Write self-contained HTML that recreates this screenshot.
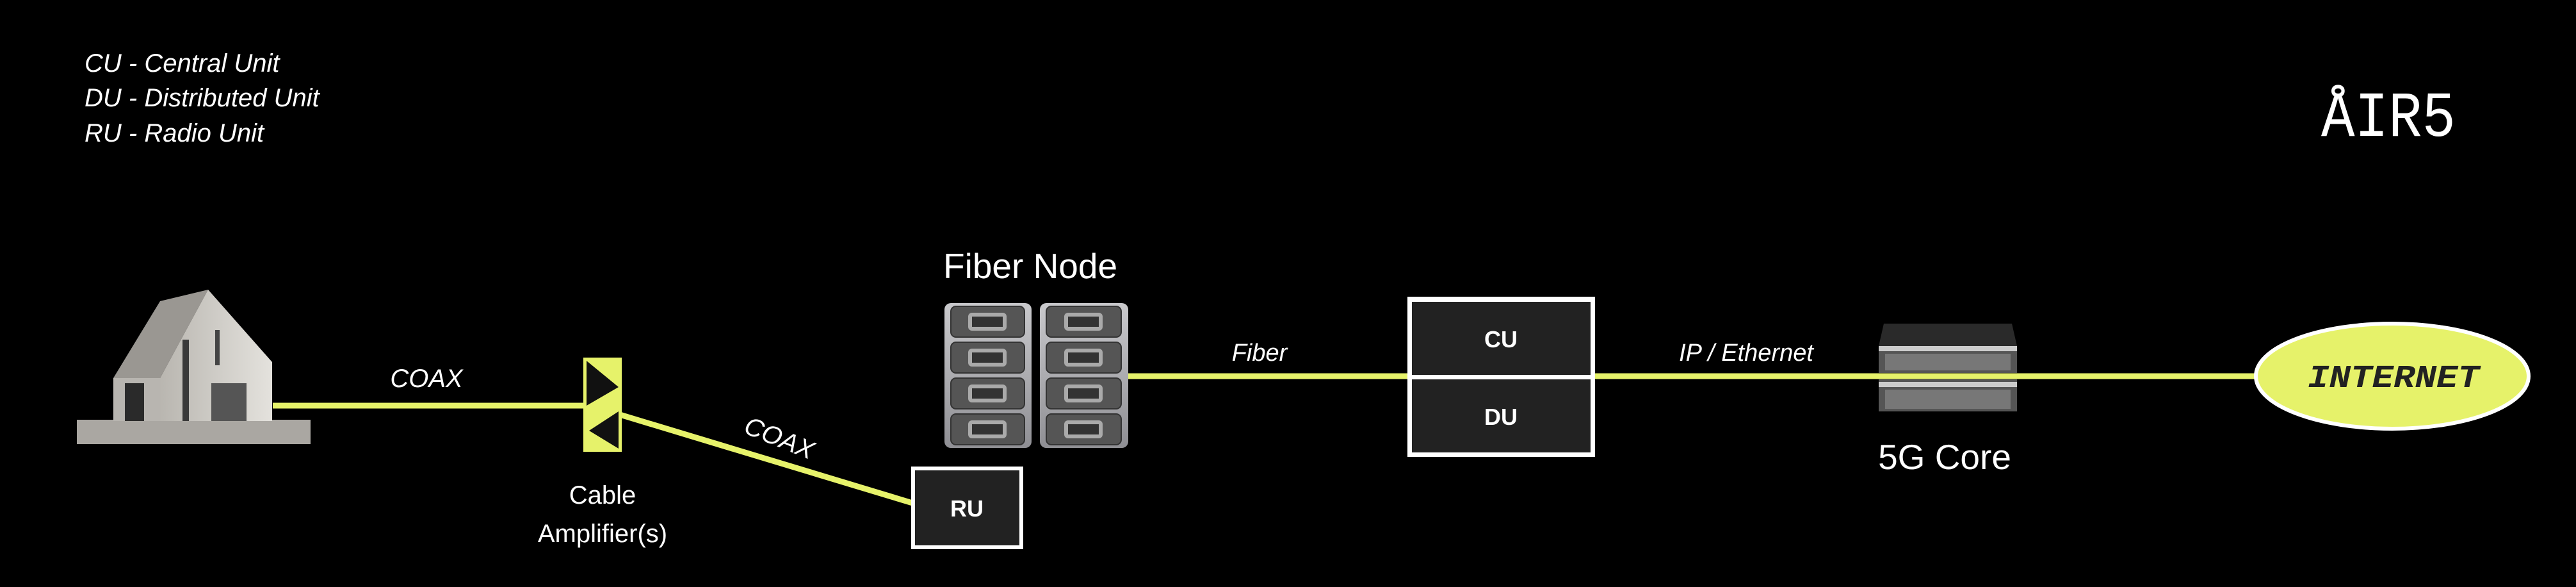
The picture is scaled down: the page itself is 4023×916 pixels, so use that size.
<!DOCTYPE html>
<html><head><meta charset="utf-8"><style>
html,body{margin:0;padding:0;background:#000;}
svg{display:block}
text{font-family:"Liberation Sans",sans-serif;fill:#fff}
text.mono{font-family:"Liberation Mono",monospace}
</style></head><body>
<svg width="4023" height="916" viewBox="0 0 4023 916" xmlns="http://www.w3.org/2000/svg">
<defs>
<linearGradient id="srv" x1="0" y1="0" x2="0" y2="1"><stop offset="0" stop-color="#c9c9cc"/><stop offset="1" stop-color="#8f8f94"/></linearGradient>
<linearGradient id="wall" x1="0" y1="0" x2="1" y2="0"><stop offset="0" stop-color="#b9b6b0"/><stop offset="1" stop-color="#e4e2dd"/></linearGradient>
</defs>
<rect width="4023" height="916" fill="#000"/>

<!-- legend -->
<text x="132" y="112" font-size="40" font-style="italic">CU - Central Unit</text>
<text x="132" y="166" font-size="40" font-style="italic">DU - Distributed Unit</text>
<text x="132" y="221" font-size="40" font-style="italic">RU - Radio Unit</text>

<!-- logo -->
<text class="mono" x="3730" y="212" font-size="100" text-anchor="middle" textLength="210" lengthAdjust="spacingAndGlyphs">ÅIR5</text>

<!-- connectors -->
<line x1="426" y1="633" x2="915" y2="633" stroke="#e6f26a" stroke-width="9"/>
<line x1="935" y1="637" x2="1425" y2="785" stroke="#e6f26a" stroke-width="9"/>
<line x1="1760" y1="587" x2="3525" y2="587" stroke="#e6f26a" stroke-width="9"/>

<!-- house -->
<polygon points="120,655 485,655 485,693 120,693" fill="#aaa7a2"/>
<polygon points="177,590 250,470 325,452 250,590" fill="#9a9792"/>
<polygon points="177,590 250,590 250,657 177,657" fill="#b8b5b0"/>
<polygon points="250,590 325,452 425,565 425,657 250,657" fill="url(#wall)"/>
<rect x="195" y="598" width="30" height="59" fill="#2a2a2a"/>
<rect x="285" y="530" width="10" height="127" fill="#3a3a3a"/>
<rect x="330" y="598" width="55" height="59" fill="#555"/>
<rect x="336" y="515" width="7" height="55" fill="#444"/>

<!-- amplifier -->
<rect x="911" y="558" width="60" height="147" fill="#e6f26a"/>
<polygon points="916,563 966,604 916,633" fill="#111"/>
<polygon points="966,642 920,672 966,700" fill="#111"/>
<text x="941" y="786" font-size="40" text-anchor="middle">Cable</text>
<text x="941" y="846" font-size="40" text-anchor="middle">Amplifier(s)</text>

<text x="666" y="604" font-size="40" font-style="italic" text-anchor="middle">COAX</text>
<text x="1212" y="696" font-size="40" font-style="italic" text-anchor="middle" transform="rotate(22 1212 696)">COAX</text>

<!-- RU -->
<rect x="1426" y="731" width="169" height="123" fill="#222" stroke="#fff" stroke-width="6"/>
<text x="1510" y="806" font-size="36" text-anchor="middle" font-weight="bold">RU</text>

<!-- fiber node -->
<text x="1473" y="434" font-size="55">Fiber Node</text>
<g>
<rect x="1475" y="473" width="136" height="226" rx="10" fill="url(#srv)"/>
<rect x="1624" y="473" width="138" height="226" rx="10" fill="url(#srv)"/>
<g fill="#555" stroke="#333" stroke-width="2">
<rect x="1485" y="478" width="115" height="48" rx="8"/><rect x="1485" y="534" width="115" height="48" rx="8"/><rect x="1485" y="590" width="115" height="48" rx="8"/><rect x="1485" y="646" width="115" height="48" rx="8"/>
<rect x="1634" y="478" width="117" height="48" rx="8"/><rect x="1634" y="534" width="117" height="48" rx="8"/><rect x="1634" y="590" width="117" height="48" rx="8"/><rect x="1634" y="646" width="117" height="48" rx="8"/>
</g>
<g fill="#aaa">
<rect x="1512" y="488" width="60" height="28" rx="6"/><rect x="1512" y="544" width="60" height="28" rx="6"/><rect x="1512" y="600" width="60" height="28" rx="6"/><rect x="1512" y="656" width="60" height="28" rx="6"/>
<rect x="1662" y="488" width="60" height="28" rx="6"/><rect x="1662" y="544" width="60" height="28" rx="6"/><rect x="1662" y="600" width="60" height="28" rx="6"/><rect x="1662" y="656" width="60" height="28" rx="6"/>
</g>
<g fill="#333">
<rect x="1518" y="494" width="48" height="16"/><rect x="1518" y="550" width="48" height="16"/><rect x="1518" y="606" width="48" height="16"/><rect x="1518" y="662" width="48" height="16"/>
<rect x="1668" y="494" width="48" height="16"/><rect x="1668" y="550" width="48" height="16"/><rect x="1668" y="606" width="48" height="16"/><rect x="1668" y="662" width="48" height="16"/>
</g>
</g>

<text x="1967" y="563" font-size="38" font-style="italic" text-anchor="middle">Fiber</text>

<!-- CU/DU -->
<rect x="2198" y="463" width="293" height="250" fill="#fff"/>
<rect x="2205" y="471" width="279" height="114" fill="#222"/>
<rect x="2205" y="592" width="279" height="114" fill="#222"/>
<text x="2344" y="542" font-size="36" text-anchor="middle" font-weight="bold">CU</text>
<text x="2344" y="663" font-size="36" text-anchor="middle" font-weight="bold">DU</text>

<text x="2727" y="563" font-size="38" font-style="italic" text-anchor="middle">IP / Ethernet</text>

<!-- 5G core -->
<polygon points="2942,505 3142,505 3150,540 2934,540" fill="#2a2a2a"/>
<rect x="2934" y="540" width="216" height="42" fill="#555"/>
<rect x="2934" y="540" width="216" height="8" fill="#ccc"/>
<rect x="2944" y="552" width="196" height="26" fill="#777"/>
<rect x="2934" y="592" width="216" height="50" fill="#555"/>
<rect x="2934" y="596" width="216" height="8" fill="#ccc"/>
<rect x="2944" y="608" width="196" height="30" fill="#777"/>
<text x="3037" y="732" font-size="55" text-anchor="middle">5G Core</text>

<!-- internet -->
<ellipse cx="3736" cy="587" rx="213" ry="82" fill="#e6f26a" stroke="#fff" stroke-width="6"/>
<text class="mono" x="3738" y="604" font-size="50" font-weight="bold" font-style="italic" text-anchor="middle" textLength="268" lengthAdjust="spacingAndGlyphs" style="fill:#222">INTERNET</text>
</svg>
</body></html>
